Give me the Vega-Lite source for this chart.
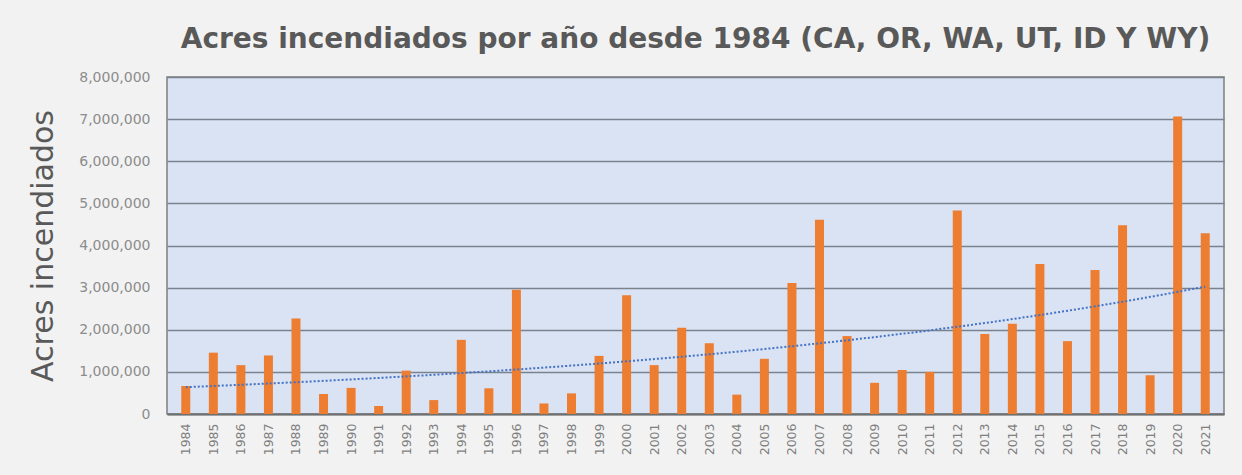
{
  "$schema": "https://vega.github.io/schema/vega-lite/v6.json",
  "autosize": {"type": "none"},
  "width": 1057,
  "height": 337,
  "padding": {"left": 167, "top": 77, "right": 18, "bottom": 61},
  "background": "#f2f2f2",
  "title": {
    "text": "Acres incendiados por año desde 1984 (CA, OR, WA, UT, ID Y WY)",
    "anchor": "middle",
    "frame": "group",
    "font": "DejaVu Sans",
    "fontSize": 28,
    "fontWeight": "bold",
    "color": "#595959",
    "offset": 16
  },
  "config": {
    "view": {"fill": "#dae3f3", "stroke": "#7f7f7f", "strokeWidth": 1.5}
  },
  "data": {
    "values": [
      {"year": 1984, "acres": 665000},
      {"year": 1985, "acres": 1456000},
      {"year": 1986, "acres": 1160000},
      {"year": 1987, "acres": 1390000},
      {"year": 1988, "acres": 2270000},
      {"year": 1989, "acres": 475000},
      {"year": 1990, "acres": 620000},
      {"year": 1991, "acres": 190000},
      {"year": 1992, "acres": 1030000},
      {"year": 1993, "acres": 330000},
      {"year": 1994, "acres": 1760000},
      {"year": 1995, "acres": 610000},
      {"year": 1996, "acres": 2950000},
      {"year": 1997, "acres": 250000},
      {"year": 1998, "acres": 490000},
      {"year": 1999, "acres": 1380000},
      {"year": 2000, "acres": 2820000},
      {"year": 2001, "acres": 1160000},
      {"year": 2002, "acres": 2050000},
      {"year": 2003, "acres": 1680000},
      {"year": 2004, "acres": 460000},
      {"year": 2005, "acres": 1310000},
      {"year": 2006, "acres": 3110000},
      {"year": 2007, "acres": 4610000},
      {"year": 2008, "acres": 1850000},
      {"year": 2009, "acres": 740000},
      {"year": 2010, "acres": 1045000},
      {"year": 2011, "acres": 1000000},
      {"year": 2012, "acres": 4830000},
      {"year": 2013, "acres": 1900000},
      {"year": 2014, "acres": 2140000},
      {"year": 2015, "acres": 3560000},
      {"year": 2016, "acres": 1730000},
      {"year": 2017, "acres": 3420000},
      {"year": 2018, "acres": 4480000},
      {"year": 2019, "acres": 920000},
      {"year": 2020, "acres": 7060000},
      {"year": 2021, "acres": 4290000}
    ]
  },
  "encoding": {
    "x": {
      "field": "year",
      "type": "quantitative",
      "scale": {"domain": [1983.5, 2021.5], "nice": false, "zero": false},
      "axis": {
        "title": null,
        "values": [1984,1985,1986,1987,1988,1989,1990,1991,1992,1993,1994,1995,1996,1997,1998,1999,2000,2001,2002,2003,2004,2005,2006,2007,2008,2009,2010,2011,2012,2013,2014,2015,2016,2017,2018,2019,2020,2021],
        "format": "d",
        "labelAngle": 270,
        "labelAlign": "right",
        "labelBaseline": "middle",
        "labelFont": "DejaVu Sans",
        "labelFontSize": 12.5,
        "labelColor": "#7f7f7f",
        "labelPadding": 9,
        "labelOverlap": false,
        "labelFlush": false,
        "ticks": false,
        "grid": false,
        "domainColor": "#6f6f6f",
        "domainWidth": 2
      }
    }
  },
  "layer": [
    {
      "mark": {"type": "bar", "color": "#ed7d31", "size": 9},
      "encoding": {
        "y": {
          "field": "acres",
          "type": "quantitative",
          "scale": {"domain": [0, 8000000], "nice": false},
          "axis": {
            "title": "Acres incendiados",
            "titleFont": "DejaVu Sans",
            "titleFontSize": 30,
            "titleFontWeight": "normal",
            "titleColor": "#595959",
            "titlePadding": 20,
            "values": [0,1000000,2000000,3000000,4000000,5000000,6000000,7000000,8000000],
            "format": ",d",
            "labelFont": "DejaVu Sans",
            "labelFontSize": 14,
            "labelColor": "#8c8c8c",
            "labelPadding": 17,
            "ticks": false,
            "domain": false,
            "grid": true,
            "gridColor": "#7a8290",
            "gridWidth": 1.5
          }
        }
      }
    },
    {
      "transform": [
        {"calculate": "log(datum.acres)", "as": "lnacres"},
        {"regression": "lnacres", "on": "year", "method": "poly", "order": 1, "extent": [1984, 2021]},
        {"calculate": "exp(datum.lnacres)", "as": "trend"}
      ],
      "mark": {"type": "line", "color": "#4472c4", "strokeWidth": 2, "strokeDash": [2, 2]},
      "encoding": {
        "y": {"field": "trend", "type": "quantitative"}
      }
    }
  ]
}
